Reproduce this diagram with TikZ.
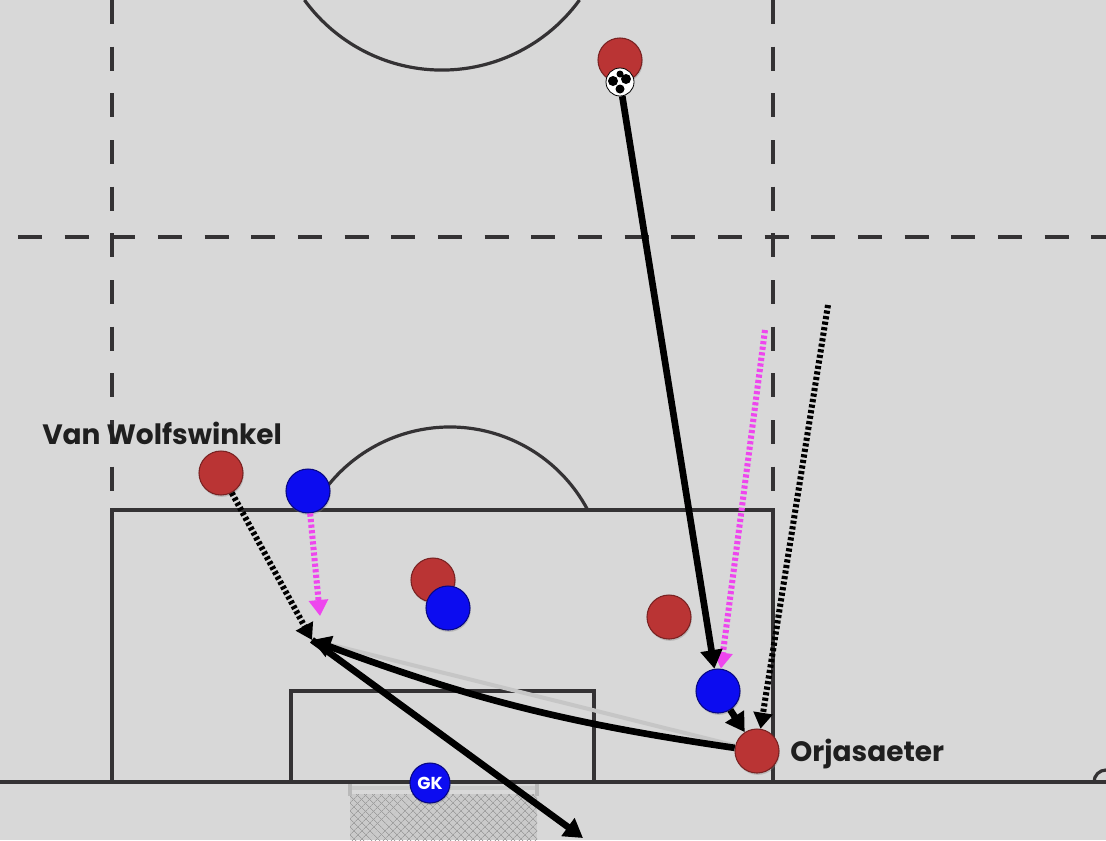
\documentclass[tikz,border=0pt]{standalone}
\usepackage{fontspec}
\setsansfont{Poppins}
\usetikzlibrary{arrows.meta,patterns.meta,shadows,positioning}
\definecolor{pitch}{RGB}{216,216,216}
\definecolor{chalk}{RGB}{52,50,52}
\definecolor{redteam}{RGB}{186,52,52}
\definecolor{blueteam}{RGB}{12,12,240}
\definecolor{runpink}{RGB}{238,70,238}
\definecolor{netgrey}{RGB}{202,202,202}
\tikzset{
  player/.style={circle, minimum size=33pt, inner sep=0pt, line width=0.8pt,
    drop shadow={opacity=0.35, shadow xshift=0.6pt, shadow yshift=-1.4pt}},
  redp/.style={player, fill=redteam, draw=redteam!65!black},
  bluep/.style={player, fill=blueteam, draw=blueteam!55!black},
  pitchline/.style={draw=chalk, line width=2.4pt},
  zoneline/.style={draw=chalk, line width=2.4pt, dash pattern=on 18pt off 17pt},
  pass/.style={line width=5pt, -{Triangle[length=14pt,width=16pt]}},
  run/.style={line width=4.5pt, dash pattern=on 2.4pt off 1.8pt, -{Triangle[length=12pt,width=14pt]}},
  namelabel/.style={font=\sffamily\bfseries\fontsize{21}{24}\selectfont, text=black!88, inner sep=0pt}
}
\begin{document}
\begin{tikzpicture}[x=0.75pt,y=0.75pt,yscale=-1,xscale=1]
\useasboundingbox (0,0) rectangle (1106,840);
\fill[pitch] (0,0) rectangle (1106,840);

%Goal net
\fill[netgrey] (350,786) rectangle (537,840);
\fill[pattern={Lines[angle=45,distance=4pt,line width=0.6pt]}, pattern color=gray!75] (350,792) rectangle (537,840);
\fill[pattern={Lines[angle=-45,distance=4pt,line width=0.6pt]}, pattern color=gray!75] (350,792) rectangle (537,840);
\draw[gray!30, line width=3pt] (350,792) -- (537,792);
\draw[gray!55, line width=2.5pt] (350,782) -- (350,796) (537,782) -- (537,796);

%Pitch markings
\draw[pitchline] (0,782) -- (1106,782);
\draw[pitchline] (112,782) -- (112,510) -- (773,510) -- (773,782);
\draw[pitchline] (291,782) -- (291,691) -- (594,691) -- (594,782);
\draw[pitchline] (312,510) arc[start angle=207.9, end angle=332.1, radius=156];
\draw[pitchline] (579.5,0) arc[start angle=36, end angle=144, radius=170];
\draw[pitchline] (1094,782) arc[start angle=180, end angle=270, radius=12];

%Zone lines
\draw[zoneline] (18,237) -- (1106,237);
\draw[zoneline] (112,0) -- (112,505);
\draw[zoneline] (773,0) -- (773,505);

%Players
\node[redp] (carrier) at (620,60) {};
\node[circle, fill=white, draw=black, line width=0.6pt, minimum size=21pt, inner sep=0pt] (ball) at (620,82) {};
\fill[black] (ball.center) ++(-7,-1) circle[radius=5] ++(13,-2) circle[radius=5] ++(-6,10) circle[radius=4.5] ++(0,-15) circle[radius=3.5];
\node[redp] (vw) at (221,473) {};
\node[redp] (rcentre) at (433,580) {};
\node[redp] (rfar) at (669,617) {};
\node[redp] (orj) at (757,751) {};
\node[bluep] (bleft) at (308,491) {};
\node[bluep] (bcentre) at (448,608) {};
\node[bluep] (bnear) at (718,691) {};
\node[bluep, minimum size=30pt, font=\sffamily\bfseries\fontsize{13}{13}\selectfont, text=white] (gk) at (430,783) {GK};

% Text Node
\node[namelabel, anchor=west] (vwname) at (42,433) {Van Wolfswinkel};
% Text Node
\node[namelabel, right=8pt of orj, yshift=-2pt] (orjname) {Orjasaeter};

%Run and pass points
\coordinate (recv) at (312,640);
\coordinate (shotend) at (583,838);
\coordinate (pinkstart) at (765,330);
\coordinate (pinkend) at (320,616);
\coordinate (dotstart) at (828,305);

%Runs
\draw[run] (vw) -- (recv);
\draw[run, runpink] (bleft) -- (pinkend);
\draw[run, runpink] (pinkstart) -- (bnear);
\draw[run] (dotstart) -- (orj);

%Passes
\draw[gray!45, line width=3pt] (orj) -- (recv);
\draw[pass] (ball) -- (bnear);
\draw[pass] (bnear) -- (orj);
\draw[pass] (orj) to[bend right=6] (recv);
\draw[pass] (recv) -- (shotend);

\end{tikzpicture}
\end{document}
